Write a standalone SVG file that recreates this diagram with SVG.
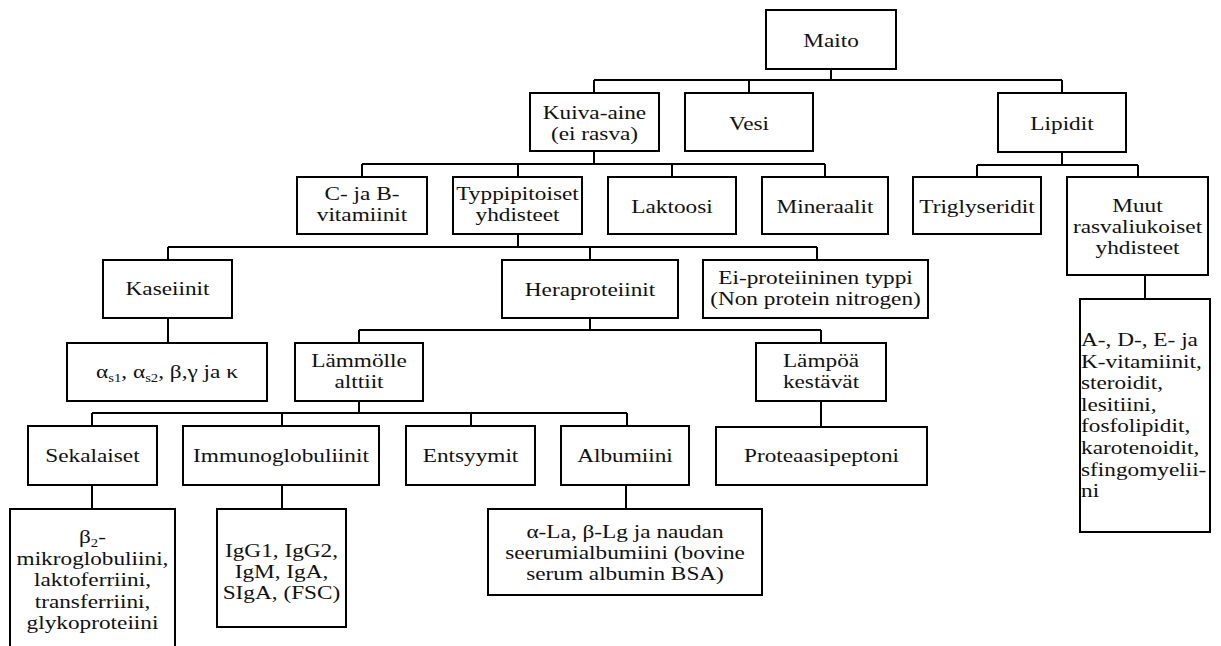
<svg xmlns="http://www.w3.org/2000/svg" width="1221" height="646" viewBox="0 0 1221 646">
<style>
.b{fill:#fff;stroke:#000;stroke-width:2}
.c{fill:none;stroke:#000;stroke-width:2}
text{font-family:"Liberation Serif","Times New Roman",serif;font-size:19px;fill:#111;text-anchor:middle}
.l{text-anchor:start}
.sub{font-size:12px}
</style>
<rect width="1221" height="646" fill="#fff"/>
<g id="connectors">
<path class="c" d="M831,69V80M594,80H1062M594,80V93M749,80V93M1062,80V93"/>
<path class="c" d="M594,151V164M362,164H825M362,164V177M518,164V177M672,164V177M825,164V177"/>
<path class="c" d="M1062,152V165M977,165H1138M977,165V177M1138,165V177"/>
<path class="c" d="M518,234V247M168,247H817M168,247V260M590,247V260M817,247V260"/>
<path class="c" d="M168,318V343"/>
<path class="c" d="M590,318V330M359,330H821M359,330V343M821,330V343"/>
<path class="c" d="M359,401V413M92,413H627M92,413V426M282,413V426M471,413V426M627,413V426"/>
<path class="c" d="M821,401V427"/>
<path class="c" d="M92,485V509M282,485V509M626,485V509"/>
<path class="c" d="M1145,275V299"/>
</g>
<g id="maito"><rect class="b" x="766" y="10" width="130" height="59"/><text transform="translate(831 47) scale(1.225 1)">Maito</text></g>
<g id="kuiva-aine"><rect class="b" x="530" y="93" width="129" height="58"/><text transform="translate(594.5 119) scale(1.225 1)"><tspan x="0">Kuiva-aine</tspan><tspan x="0" dy="21">(ei rasva)</tspan></text></g>
<g id="vesi"><rect class="b" x="685" y="93" width="128" height="58"/><text transform="translate(749 130) scale(1.225 1)">Vesi</text></g>
<g id="lipidit"><rect class="b" x="998" y="93" width="128" height="59"/><text transform="translate(1062 130) scale(1.225 1)">Lipidit</text></g>
<g id="cjab"><rect class="b" x="297" y="177" width="130" height="57"/><text transform="translate(362 200) scale(1.225 1)"><tspan x="0">C- ja B-</tspan><tspan x="0" dy="21">vitamiinit</tspan></text></g>
<g id="typpi"><rect class="b" x="453" y="177" width="129" height="57"/><text transform="translate(517.5 200) scale(1.225 1)"><tspan x="0">Typpipitoiset</tspan><tspan x="0" dy="21">yhdisteet</tspan></text></g>
<g id="laktoosi"><rect class="b" x="608" y="177" width="128" height="57"/><text transform="translate(672 213) scale(1.225 1)">Laktoosi</text></g>
<g id="mineraalit"><rect class="b" x="762" y="177" width="126" height="57"/><text transform="translate(825 213) scale(1.225 1)">Mineraalit</text></g>
<g id="triglyseridit"><rect class="b" x="913" y="177" width="128" height="57"/><text transform="translate(977 213) scale(1.225 1)">Triglyseridit</text></g>
<g id="muut"><rect class="b" x="1067" y="177" width="141" height="98"/><text transform="translate(1137.5 212) scale(1.225 1)"><tspan x="0">Muut</tspan><tspan x="0" dy="21">rasvaliukoiset</tspan><tspan x="0" dy="21">yhdisteet</tspan></text></g>
<g id="kaseiinit"><rect class="b" x="103" y="260" width="129" height="58"/><text transform="translate(167.5 295) scale(1.225 1)">Kaseiinit</text></g>
<g id="heraproteiinit"><rect class="b" x="502" y="260" width="176" height="58"/><text transform="translate(590 296) scale(1.225 1)">Heraproteiinit</text></g>
<g id="ei-proteiininen"><rect class="b" x="703" y="260" width="225" height="58"/><text transform="translate(815.5 284) scale(1.225 1)"><tspan x="0">Ei-proteiininen typpi</tspan><tspan x="0" dy="21">(Non protein nitrogen)</tspan></text></g>
<g id="kaseiinit-lista"><rect class="b" x="67" y="343" width="200" height="58"/><text transform="translate(167 378) scale(1.225 1)">α<tspan class="sub" dy="4">s1</tspan><tspan dy="-4">, α</tspan><tspan class="sub" dy="4">s2</tspan><tspan dy="-4">, β,γ ja κ</tspan></text></g>
<g id="lammolle"><rect class="b" x="295" y="343" width="128" height="58"/><text transform="translate(359 367) scale(1.225 1)"><tspan x="0">Lämmölle</tspan><tspan x="0" dy="21">alttiit</tspan></text></g>
<g id="lampoa"><rect class="b" x="756" y="343" width="130" height="58"/><text transform="translate(821 367) scale(1.225 1)"><tspan x="0">Lämpöä</tspan><tspan x="0" dy="21">kestävät</tspan></text></g>
<g id="sekalaiset"><rect class="b" x="28" y="426" width="129" height="59"/><text transform="translate(92.5 462) scale(1.225 1)">Sekalaiset</text></g>
<g id="immunoglobuliinit"><rect class="b" x="183" y="426" width="196" height="59"/><text transform="translate(281 462) scale(1.225 1)">Immunoglobuliinit</text></g>
<g id="entsyymit"><rect class="b" x="406" y="426" width="129" height="59"/><text transform="translate(470.5 462) scale(1.225 1)">Entsyymit</text></g>
<g id="albumiini"><rect class="b" x="561" y="426" width="128" height="59"/><text transform="translate(625 462) scale(1.225 1)">Albumiini</text></g>
<g id="proteaasipeptoni"><rect class="b" x="716" y="427" width="211" height="58"/><text transform="translate(821.5 462) scale(1.225 1)">Proteaasipeptoni</text></g>
<g id="sekalaiset-lista"><rect class="b" x="10" y="509" width="165" height="150"/><text transform="translate(92.5 543) scale(1.225 1)"><tspan x="0">β<tspan class="sub" dy="4">2</tspan><tspan dy="-4">-</tspan></tspan><tspan x="0" dy="22">mikroglobuliini,</tspan><tspan x="0" dy="21.5">laktoferriini,</tspan><tspan x="0" dy="21.5">transferriini,</tspan><tspan x="0" dy="21.5">glykoproteiini</tspan></text></g>
<g id="immuno-lista"><rect class="b" x="217" y="509" width="129" height="118"/><text transform="translate(281.5 557) scale(1.225 1)"><tspan x="0">IgG1, IgG2,</tspan><tspan x="0" dy="21">IgM, IgA,</tspan><tspan x="0" dy="21">SIgA,  (FSC)</tspan></text></g>
<g id="albumiini-lista"><rect class="b" x="488" y="509" width="274" height="86"/><text transform="translate(625 538) scale(1.225 1)"><tspan x="0">α-La, β-Lg ja naudan</tspan><tspan x="0" dy="21">seerumialbumiini (bovine</tspan><tspan x="0" dy="21">serum albumin BSA)</tspan></text></g>
<g id="muut-lista"><rect class="b" x="1080" y="299" width="130" height="233"/><text class="l" transform="translate(1081 346) scale(1.225 1)"><tspan x="0">A-, D-, E- ja</tspan><tspan x="0" dy="21.6">K-vitamiinit,</tspan><tspan x="0" dy="21.6">steroidit,</tspan><tspan x="0" dy="21.6">lesitiini,</tspan><tspan x="0" dy="21.6">fosfolipidit,</tspan><tspan x="0" dy="21.6">karotenoidit,</tspan><tspan x="0" dy="21.6">sfingomyelii-</tspan><tspan x="0" dy="21.6">ni</tspan></text></g>
</svg>
